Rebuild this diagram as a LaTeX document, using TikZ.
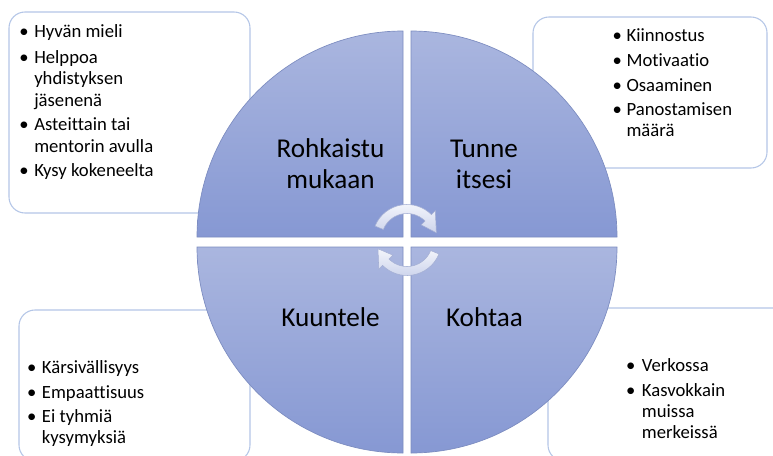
\documentclass[tikz,border=0pt]{standalone}
\usepackage{fontspec}
\setmainfont{Carlito}[Ligatures={NoCommon,NoContextual}]
\definecolor{quadtop}{HTML}{AAB6DF}
\definecolor{quadbot}{HTML}{8698D3}
\definecolor{quadline}{HTML}{7C8CC0}
\definecolor{boxline}{HTML}{B4C6E7}
\definecolor{arrtop}{HTML}{F3F5FB}
\definecolor{arrbot}{HTML}{CDD4EC}
\definecolor{arrline}{HTML}{A3AED3}
\begin{document}
\begin{tikzpicture}[x=0.75pt,y=0.75pt,
  infobox/.style={draw=boxline,line width=0.8pt,fill=white,rounded corners=12pt},
  quad/.style={draw=quadline,line width=0.5pt,top color=quadtop,bottom color=quadbot},
  cyc/.style={draw=arrline,line width=0.4pt,top color=arrtop,bottom color=arrbot},
  txt/.style={anchor=base west,inner sep=0pt,font=\fontsize{14}{16}\selectfont},
  bul/.style={anchor=base,inner sep=0pt,font=\fontsize{14}{16}\selectfont},
  lab/.style={anchor=base,inner sep=0pt,font=\fontsize{20.4}{24}\selectfont}]
\useasboundingbox (0,0) rectangle (773,455);
\fill[white] (0,0) rectangle (773,455);
% boxes behind circle
\draw[infobox] (9,443) rectangle (250,242);
\draw[infobox] (533,438) rectangle (767,287);
\draw[infobox] (19,145) rectangle (250,-6);
\draw[infobox] (548,147) rectangle (790,-6);
% quadrants
\draw[quad] (403,218) -- ++(-206,0) arc[start angle=180,end angle=90,radius=154.5pt] -- cycle;
\draw[quad] (411,218) -- ++(0,206) arc[start angle=90,end angle=0,radius=154.5pt] -- cycle;
\draw[quad] (403,208) -- ++(0,-206) arc[start angle=270,end angle=180,radius=154.5pt] -- cycle;
\draw[quad] (411,208) -- ++(206,0) arc[start angle=0,end angle=-90,radius=154.5pt] -- cycle;
% cycle arrows
\begin{scope}[shift={(407,216)}]
\draw[cyc] (158:34.5) arc[start angle=158,end angle=45,radius=25.875pt]
  -- (45:40) -- (12:30) -- (45:20) -- (45:25.5)
  arc[start angle=45,end angle=158,radius=19.125pt] -- cycle;
\end{scope}
\begin{scope}[shift={(407,214)}]
\draw[cyc] (-22:34.5) arc[start angle=-22,end angle=-135,radius=25.875pt]
  -- (-135:40) -- (-165:30) -- (-135:20) -- (-135:25.5)
  arc[start angle=-135,end angle=-22,radius=19.125pt] -- cycle;
\end{scope}
% quadrant labels
\node[lab] (r1) at (330.5,297.7) {Rohkaistu};
\node[lab] (r2) at (330.5,266.7) {mukaan};
\node[lab] (t1) at (484,297.7) {Tunne};
\node[lab] (t2) at (484,266.7) {itsesi};
\node[lab] (k1) at (330.5,128.3) {Kuuntele};
\node[lab] (k2) at (484.5,128.3) {Kohtaa};
% top-left list
\node[bul] (tlb1) at (24,417.3) {•};
\node[txt] (tl1) at (34,417.3) {Hyvän mieli};
\node[bul] (tlb2) at (24,392) {•};
\node[txt] (tl2) at (34,392) {Helppoa};
\node[txt] (tl3) at (34,370.5) {yhdistyksen};
\node[txt] (tl4) at (34,349) {jäsenenä};
\node[bul] (tlb3) at (24,324.5) {•};
\node[txt] (tl5) at (34,324.5) {Asteittain tai};
\node[txt] (tl6) at (34,303) {mentorin avulla};
\node[bul] (tlb4) at (24,279) {•};
\node[txt] (tl7) at (34,279) {Kysy kokeneelta};
% top-right list
\node[bul] (trb1) at (617.3,413.3) {•};
\node[txt] (tr1) at (626.3,413.3) {Kiinnostus};
\node[bul] (trb2) at (617.3,388.3) {•};
\node[txt] (tr2) at (626.3,388.3) {Motivaatio};
\node[bul] (trb3) at (617.3,364) {•};
\node[txt] (tr3) at (626.3,364) {Osaaminen};
\node[bul] (trb4) at (617.3,340) {•};
\node[txt] (tr4) at (626.3,340) {Panostamisen};
\node[txt] (tr5) at (626.3,318.3) {määrä};
% bottom-left list
\node[bul] (blb1) at (31.7,81.7) {•};
\node[txt] (bl1) at (41.7,81.7) {Kärsivällisyys};
\node[bul] (blb2) at (31.7,56.7) {•};
\node[txt] (bl2) at (41.7,56.7) {Empaattisuus};
\node[bul] (blb3) at (31.7,32.3) {•};
\node[txt] (bl3) at (41.7,32.3) {Ei tyhmiä};
\node[txt] (bl4) at (41.7,11.7) {kysymyksiä};
% bottom-right list
\node[bul] (brb1) at (630.7,84) {•};
\node[txt] (br1) at (641.7,84) {Verkossa};
\node[bul] (brb2) at (630.7,59) {•};
\node[txt] (br2) at (641.7,59) {Kasvokkain};
\node[txt] (br3) at (641.7,37.7) {muissa};
\node[txt] (br4) at (641.7,16.7) {merkeissä};
\end{tikzpicture}
\end{document}
